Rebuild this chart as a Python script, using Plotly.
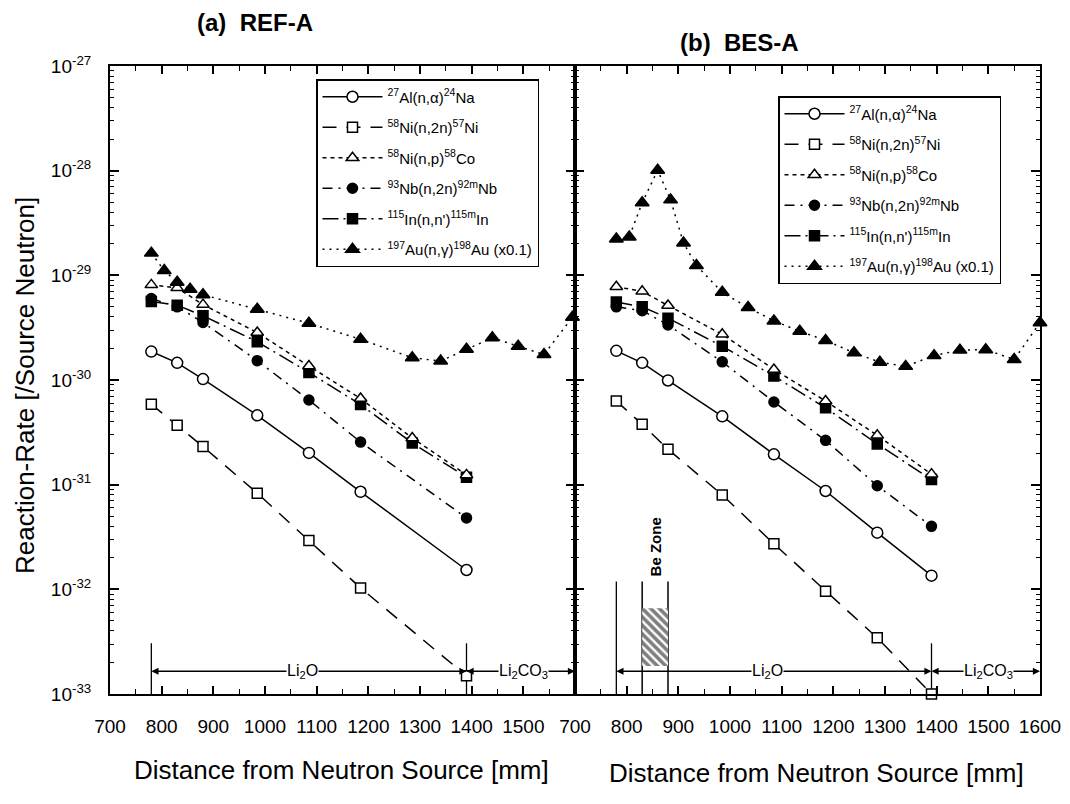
import numpy as np
import plotly.graph_objects as go

W, H = 1070, 804

# ---------------- data ----------------
x_det = [780, 830, 880, 985, 1085, 1185, 1285, 1390]
x_det7 = [780, 830, 880, 985, 1085, 1185, 1390]

# (a) REF-A
al_ref = [1.87e-30, 1.46e-30, 1.02e-30, 4.6e-31, 2.01e-31, 8.55e-32, 1.53e-32]
ni2n_ref = [5.86e-31, 3.69e-31, 2.31e-31, 8.3e-32, 2.92e-32, 1.03e-32, 1.49e-33]
nip_ref = [8.11e-30, 7.59e-30, 5.25e-30, 2.84e-30, 1.36e-30, 6.65e-31, 2.79e-31, 1.24e-31]
nb_ref = [6.0e-30, 5.0e-30, 3.55e-30, 1.53e-30, 6.44e-31, 2.55e-31, 4.81e-32]
in_ref = [5.62e-30, 5.19e-30, 4.11e-30, 2.32e-30, 1.18e-30, 5.82e-31, 2.5e-31, 1.18e-31]
x_au_ref = [780, 805, 830, 855, 880, 985, 1085, 1185, 1285, 1340, 1390, 1440, 1490, 1540, 1595]
au_ref = [1.63e-29, 1.11e-29, 8.61e-30, 7.38e-30, 6.53e-30, 4.75e-30, 3.48e-30, 2.45e-30,
          1.63e-30, 1.52e-30, 1.97e-30, 2.53e-30, 2.10e-30, 1.75e-30, 3.98e-30]

# (b) BES-A
al_bes = [1.90e-30, 1.46e-30, 9.9e-31, 4.5e-31, 1.95e-31, 8.7e-32, 3.48e-32, 1.35e-32]
ni2n_bes = [6.3e-31, 3.77e-31, 2.18e-31, 7.98e-32, 2.72e-32, 9.6e-33, 3.44e-33, 1.0e-33]
nip_bes = [7.78e-30, 7.03e-30, 5.15e-30, 2.73e-30, 1.26e-30, 6.3e-31, 2.96e-31, 1.26e-31]
nb_bes = [5.0e-30, 4.6e-30, 3.36e-30, 1.49e-30, 6.17e-31, 2.65e-31, 9.77e-32, 4.0e-32]
in_bes = [5.56e-30, 5.01e-30, 3.9e-30, 2.1e-30, 1.09e-30, 5.42e-31, 2.45e-31, 1.12e-31]
x_au_bes = [780, 805, 830, 860, 885, 910, 935, 985, 1035, 1085, 1135, 1185, 1240, 1290,
            1340, 1395, 1445, 1495, 1550, 1600]
au_bes = [2.22e-29, 2.33e-29, 4.93e-29, 1.01e-28, 5.26e-29, 2.04e-29, 1.24e-29, 6.88e-30,
          4.92e-30, 3.67e-30, 2.92e-30, 2.39e-30, 1.82e-30, 1.48e-30, 1.35e-30, 1.71e-30,
          1.93e-30, 1.95e-30, 1.57e-30, 3.53e-30]

names = ["<sup>27</sup>Al(n,α)<sup>24</sup>Na",
         "<sup>58</sup>Ni(n,2n)<sup>57</sup>Ni",
         "<sup>58</sup>Ni(n,p)<sup>58</sup>Co",
         "<sup>93</sup>Nb(n,2n)<sup>92m</sup>Nb",
         "<sup>115</sup>In(n,n')<sup>115m</sup>In",
         "<sup>197</sup>Au(n,γ)<sup>198</sup>Au (x0.1)"]

y_tick_vals = [1e-33, 1e-32, 1e-31, 1e-30, 1e-29, 1e-28, 1e-27]
y_tick_text = ["10<sup>-33</sup>", "10<sup>-32</sup>", "10<sup>-31</sup>", "10<sup>-30</sup>",
               "10<sup>-29</sup>", "10<sup>-28</sup>", "10<sup>-27</sup>"]
x_ticks_ref = [700, 800, 900, 1000, 1100, 1200, 1300, 1400, 1500]
x_ticks_bes = [700, 800, 900, 1000, 1100, 1200, 1300, 1400, 1500, 1600]

# zone annotations
li2o_range = [780, 1390]
li2co3_range = [1390, 1600]
be_zone = [830, 880]
zone_level = 1.65e-33
marker_line_top = 3.05e-33      # short vertical boundary lines
be_line_top = 1.19e-32          # Be-zone boundary lines
be_hatch = [1.85e-33, 6.6e-33]

# ---------------- styles ----------------
FONT = "Liberation Sans, Arial, Helvetica, sans-serif"
styles = [
    dict(symbol="circle", fill="white", size=11, dash="solid"),
    dict(symbol="square", fill="white", size=10, dash="14px,10px"),
    dict(symbol="triangle-up", fill="white", size=11, dash="4px,4px"),
    dict(symbol="circle", fill="black", size=10, dash="10px,6px,2px,6px"),
    dict(symbol="square", fill="black", size=10, dash="16px,5px,2px,5px"),
    dict(symbol="triangle-up", fill="black", size=12, dash="2px,5px"),
]
draw_order = [0, 1, 3, 4, 2, 5]

fig = go.Figure()


def vline(xa, ya, xv, ytop, width=1.3):
    fig.add_trace(go.Scatter(x=[xv, xv], y=[1e-33, ytop], xaxis=xa, yaxis=ya, mode="lines",
                             line=dict(color="black", width=width), showlegend=False,
                             hoverinfo="skip"))


# boundary lines
for xa, ya in (("x", "y"), ("x2", "y2")):
    vline(xa, ya, li2o_range[1], marker_line_top)
vline("x", "y", li2o_range[0], marker_line_top)
vline("x2", "y2", li2o_range[0], be_line_top)
for xv in be_zone:
    vline("x2", "y2", xv, be_line_top, 1.5)

# Be zone hatched block
fig.add_trace(go.Scatter(
    x=[be_zone[0], be_zone[1], be_zone[1], be_zone[0], be_zone[0]],
    y=[be_hatch[0], be_hatch[0], be_hatch[1], be_hatch[1], be_hatch[0]],
    xaxis="x2", yaxis="y2", mode="lines", fill="toself", showlegend=False,
    line=dict(width=0, color="black"), fillcolor="white",
    fillpattern=dict(shape="\\", fgcolor="black", bgcolor="white", size=6, solidity=0.6),
    hoverinfo="skip",
))

panels = [
    ("x", "y", "legend", [x_det7, x_det7, x_det, x_det7, x_det, x_au_ref],
     [al_ref, ni2n_ref, nip_ref, nb_ref, in_ref, au_ref]),
    ("x2", "y2", "legend2", [x_det, x_det, x_det, x_det, x_det, x_au_bes],
     [al_bes, ni2n_bes, nip_bes, nb_bes, in_bes, au_bes]),
]
for xa, ya, lg, xs, ys in panels:
    for i in draw_order:
        st = styles[i]
        fig.add_trace(go.Scatter(
            x=xs[i], y=ys[i], xaxis=xa, yaxis=ya, mode="lines+markers",
            name=names[i], legend=lg, legendgroup=f"{lg}_{i}", legendrank=i + 1,
            line=dict(color="black", width=1.5, dash=st["dash"]),
            marker=dict(symbol=st["symbol"], size=st["size"], color=st["fill"],
                        line=dict(color="black", width=1.5)),
            cliponaxis=False,
        ))

# ---------------- axes ----------------
yb, yt = 694, 66
ydom = [1 - yb / H, 1 - yt / H]
xdom1 = [110 / W, 575 / W]
xdom2 = [575 / W, 1040 / W]
minor_y = [k * 10.0 ** e for e in range(-33, -27) for k in range(2, 10)]

common_x = dict(range=[700, 1600], showline=True, linecolor="black", linewidth=2,
                mirror="allticks", ticks="inside", ticklen=8, tickwidth=1.5, tickcolor="black",
                showgrid=False, zeroline=False, ticklabelstandoff=14,
                tickfont=dict(family=FONT, size=19, color="black"),
                minor=dict(dtick=50, ticks="inside", ticklen=5, tickwidth=1.2, tickcolor="black",
                           showgrid=False))
common_y = dict(type="log", range=[-33, -27], domain=ydom, showline=True, linecolor="black",
                linewidth=2, mirror="allticks", ticks="inside", ticklen=9, tickwidth=1.5,
                tickcolor="black", showgrid=False, zeroline=False,
                tickvals=y_tick_vals, ticktext=y_tick_text,
                tickfont=dict(family=FONT, size=19, color="black"), ticklabelstandoff=13,
                minor=dict(tickvals=minor_y, ticks="inside", ticklen=4, tickwidth=1.2,
                           tickcolor="black", showgrid=False))

fig.update_layout(
    xaxis=dict(domain=xdom1, anchor="y", tickvals=x_ticks_ref, **common_x),
    xaxis2=dict(domain=xdom2, anchor="y2", tickvals=x_ticks_bes, **common_x),
    yaxis=dict(anchor="x", **common_y),
    yaxis2=dict(anchor="x2", showticklabels=False, **common_y),
)

legend_common = dict(xanchor="left", yanchor="top", bgcolor="white", bordercolor="black",
                     borderwidth=1.5, font=dict(family=FONT, size=15, color="black"),
                     tracegroupgap=8, itemwidth=60, traceorder="grouped")
fig.update_layout(
    legend=dict(x=316 / W, y=1 - 79 / H, **legend_common),
    legend2=dict(x=778 / W, y=1 - 96 / H, **legend_common),
)

# ---------------- annotations ----------------
L = np.log10
ann = []


def zone_arrows(xr, yr, a, b, label, lx):
    yl = L(zone_level)
    for tip in (a, b):
        ann.append(dict(x=tip, y=yl, ax=lx, ay=yl, xref=xr, yref=yr, axref=xr, ayref=yr,
                        text="", showarrow=True, arrowhead=2, arrowsize=1.1, arrowwidth=1.3,
                        arrowcolor="black"))
    ann.append(dict(x=lx, y=yl, xref=xr, yref=yr, text=label, showarrow=False,
                    xanchor="center", yanchor="middle", bgcolor="white", borderpad=0,
                    font=dict(family=FONT, size=16, color="black")))


for xr, yr in (("x", "y"), ("x2", "y2")):
    zone_arrows(xr, yr, li2o_range[0], li2o_range[1], "Li<sub>2</sub>O", 1072)
    zone_arrows(xr, yr, li2co3_range[0], li2co3_range[1], "Li<sub>2</sub>CO<sub>3</sub>", 1500)

ann.append(dict(x=856, y=L(2.55e-32), xref="x2", yref="y2", text="<b>Be Zone</b>",
                textangle=-90, showarrow=False, xanchor="center", yanchor="middle",
                font=dict(family=FONT, size=15, color="black")))


def ptext(x, y, text, size, bold=False, angle=0):
    ann.append(dict(x=x / W, y=1 - y / H, xref="paper", yref="paper", showarrow=False,
                    xanchor="center", yanchor="middle", textangle=angle,
                    text=f"<b>{text}</b>" if bold else text,
                    font=dict(family=FONT, size=size, color="black")))


ptext(255, 22, "(a)\u00a0\u00a0REF-A", 24, bold=True)
ptext(739, 43, "(b)\u00a0\u00a0BES-A", 24, bold=True)
ptext(25, 386, "Reaction-Rate [/Source Neutron]", 26, angle=-90)
ptext(341, 770, "Distance from Neutron Source [mm]", 26)
ptext(816, 773, "Distance from Neutron Source [mm]", 26)

fig.update_layout(
    width=W, height=H, margin=dict(l=0, r=0, t=0, b=0, pad=0, autoexpand=False),
    paper_bgcolor="white", plot_bgcolor="white",
    font=dict(family=FONT, color="black"),
    annotations=ann,
)

fig.write_html("out.html")
